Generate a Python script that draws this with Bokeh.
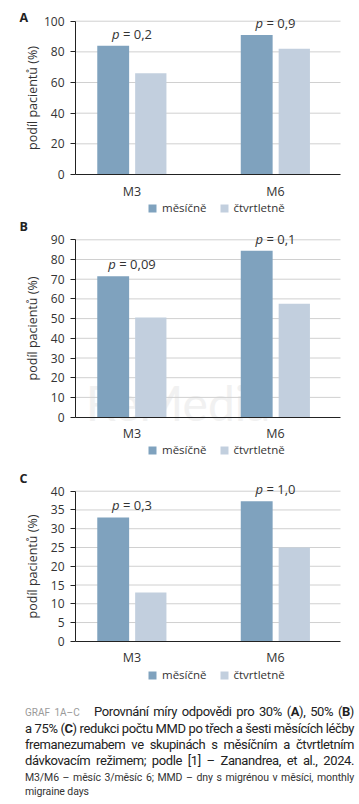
from bokeh.plotting import figure
from bokeh.models import Range1d, FixedTicker, Label, Legend, LegendItem, Div
from bokeh.layouts import column
from bokeh.embed import file_html
from bokeh.resources import INLINE

# ---------------- data ----------------
periods = ["M3", "M6"]
series = ["měsíčně", "čtvrtletně"]
panel_letters = ["A", "B", "C"]

monthly_A = [84, 91]
quarterly_A = [66, 82]
p_A = ["0,2", "0,9"]

monthly_B = [71.5, 84.5]
quarterly_B = [50.5, 57.5]
p_B = ["0,09", "0,1"]

monthly_C = [33, 37.3]
quarterly_C = [13, 25]
p_C = ["0,3", "1,0"]

y_max = [100, 90, 40]
y_step = [20, 10, 5]

# ---------------- style / layout ----------------
FONT = "Open Sans"
DARK = "#7fa2be"
LIGHT = "#c2cfde"
TXT = "#333333"
GRID = "#d0d0d0"
W = 359
PX_PER_CAT = 143.5     # pixels between category centres
CAT0_PX = 131.5        # pixel of first category centre
AXIS_L_PX = 75         # pixel of plot-area left edge
AXIS_R_PX = 340        # pixel of plot-area right edge
LEGEND_X_PX = 147

CHAR_W = {"=": 7.4, ",": 3.4, " ": 3.4}


def text_w(s, size=13):
    return sum(CHAR_W.get(c, 7.4) for c in s) * size / 13


def px2x(px):
    return (px - CAT0_PX) / PX_PER_CAT


def make_panel(letter, monthly, quarterly, pvals, ymax, ystep, height, top_px, zero_px,
               letter_dy, legend_dist, als, watermark=False):
    upp = ymax / (zero_px - top_px)  # data units per pixel
    x_start, x_end = px2x(0), px2x(W)
    ax_l, ax_r = px2x(AXIS_L_PX), px2x(AXIS_R_PX)
    p = figure(width=W, height=height, output_backend="svg", toolbar_location=None,
               x_range=Range1d(x_start, x_end),
               y_range=Range1d(-(height - zero_px) * upp, ymax + top_px * upp),
               min_border_left=0, min_border_right=0, min_border_top=0, min_border_bottom=0,
               outline_line_color=None, background_fill_color="white",
               border_fill_color="white")
    p.xgrid.visible = False
    p.ygrid.visible = False

    xs = list(range(len(periods)))
    grid_ticks = list(range(ystep, ymax + 1, ystep))
    p.segment(x0=[ax_l] * len(grid_ticks), x1=[ax_r] * len(grid_ticks),
              y0=grid_ticks, y1=grid_ticks, line_color=GRID, line_width=1)

    if watermark:
        p.add_layout(Label(x=0.32, y=0, y_offset=15, text="ReMedia", text_font="Lato",
                           text_font_size="48px", text_color="#f1f1f1", text_align="center",
                           text_baseline="middle", level="underlay"))

    r1 = p.vbar(x=[x - 0.131 for x in xs], top=monthly, width=0.222, color=DARK, line_color=None)
    r2 = p.vbar(x=[x + 0.131 for x in xs], top=quarterly, width=0.218, color=LIGHT, line_color=None)

    # y axis
    ya = p.yaxis[0]
    ya.fixed_location = ax_l
    ya.bounds = (0, ymax)
    ya.ticker = FixedTicker(ticks=list(range(0, ymax + 1, ystep)))
    ya.axis_label = "podíl pacientů (%)"
    ya.axis_label_text_font = FONT
    ya.axis_label_text_font_style = "normal"
    ya.axis_label_text_font_size = "12.5px"
    ya.axis_label_text_color = TXT
    ya.axis_label_standoff = als
    ya.major_label_text_font = FONT
    ya.major_label_text_font_size = "12px"
    ya.major_label_text_color = TXT
    ya.major_label_standoff = 6
    ya.major_tick_out = 5
    ya.major_tick_in = 0
    ya.minor_tick_out = 0
    ya.minor_tick_in = 0
    ya.axis_line_color = "#222222"
    ya.major_tick_line_color = "#222222"

    # x axis
    xa = p.xaxis[0]
    xa.fixed_location = 0
    xa.bounds = (ax_l, ax_r)
    xa.ticker = FixedTicker(ticks=xs)
    xa.major_label_overrides = {i: periods[i] for i in xs}
    xa.major_label_text_font = FONT
    xa.major_label_text_font_size = "12.5px"
    xa.major_label_text_color = TXT
    xa.major_label_standoff = 8
    xa.major_tick_out = 0
    xa.major_tick_in = 0
    xa.minor_tick_out = 0
    xa.minor_tick_in = 0
    xa.axis_line_color = "#222222"

    # panel letter
    p.add_layout(Label(x=ax_l, y=ymax, x_offset=-56, y_offset=letter_dy, text=letter,
                       text_font=FONT, text_font_style="bold", text_font_size="12.5px",
                       text_color="#222222", text_baseline="middle", text_align="left"))

    # p-values
    for i, pv in enumerate(pvals):
        top = max(monthly[i], quarterly[i])
        rest = "= " + pv
        pw = 7.5
        gap = 3.5
        rw = text_w(rest)
        split = (pw - rw - gap) / 2
        p.add_layout(Label(x=xs[i], y=top, x_offset=split, y_offset=12, text="p",
                           text_font=FONT, text_font_style="italic", text_font_size="13px",
                           text_color=TXT, text_align="right", text_baseline="middle"))
        p.add_layout(Label(x=xs[i], y=top, x_offset=split + gap, y_offset=12, text=rest,
                           text_font=FONT, text_font_size="13px",
                           text_color=TXT, text_align="left", text_baseline="middle"))

    legend = Legend(items=[LegendItem(label=series[0], renderers=[r1]),
                           LegendItem(label=series[1], renderers=[r2])],
                    orientation="horizontal", location=(LEGEND_X_PX, legend_dist - 10),
                    padding=0, margin=0, spacing=12, border_line_color=None,
                    background_fill_alpha=0, glyph_width=10, glyph_height=10,
                    label_height=10, label_standoff=5, label_text_font=FONT,
                    label_text_font_size="11.5px", label_text_color=TXT)
    p.add_layout(legend, "center")
    return p


pA = make_panel(panel_letters[0], monthly_A, quarterly_A, p_A, y_max[0], y_step[0],
                216, 20.7, 174, 4, 11, 0)
pB = make_panel(panel_letters[1], monthly_B, quarterly_B, p_B, y_max[1], y_step[1],
                248, 23.3, 200.6, 13, 17, 7, watermark=True)
pC = make_panel(panel_letters[2], monthly_C, quarterly_C, p_C, y_max[2], y_step[2],
                226, 26.7, 176.8, 13, 18, 7)

LINE = ('font-size:13px;line-height:16px;text-align:justify;text-align-last:justify;'
        'white-space:nowrap;letter-spacing:-0.4px')
SMALL = ('font-size:10.5px;line-height:14px;text-align:justify;text-align-last:justify;'
         'white-space:nowrap;letter-spacing:-0.1px')
caption_html = (
    '<div style="font-family:Roboto;color:#222;width:329px;margin-left:20px;padding-top:9px">'
    f'<div style="{LINE}">'
    '<span style="color:#9a9a9a;font-size:10px;letter-spacing:0">GRAF 1A–C</span>&nbsp;&nbsp; '
    'Porovnání míry odpovědi pro 30% (<b>A</b>), 50% (<b>B</b>)</div>'
    f'<div style="{LINE}">a 75% (<b>C</b>) redukci počtu MMD po třech a šesti měsících léčby</div>'
    f'<div style="{LINE}">fremanezumabem ve skupinách s měsíčním a čtvrtletním</div>'
    f'<div style="{LINE}">dávkovacím režimem; podle [1] – Zanandrea, et al., 2024.</div>'
    f'<div style="{SMALL};margin-top:2px;color:#333">M3/M6 – měsíc 3/měsíc 6; MMD – dny s migrénou v měsíci, monthly</div>'
    '<div style="font-size:10.5px;line-height:14px;letter-spacing:-0.1px;color:#333">migraine days</div>'
    '</div>'
)
cap = Div(text=caption_html, width=W, height=114)

layout = column(pA, pB, pC, cap, spacing=0)
open("out.html", "w").write(file_html(layout, INLINE))
